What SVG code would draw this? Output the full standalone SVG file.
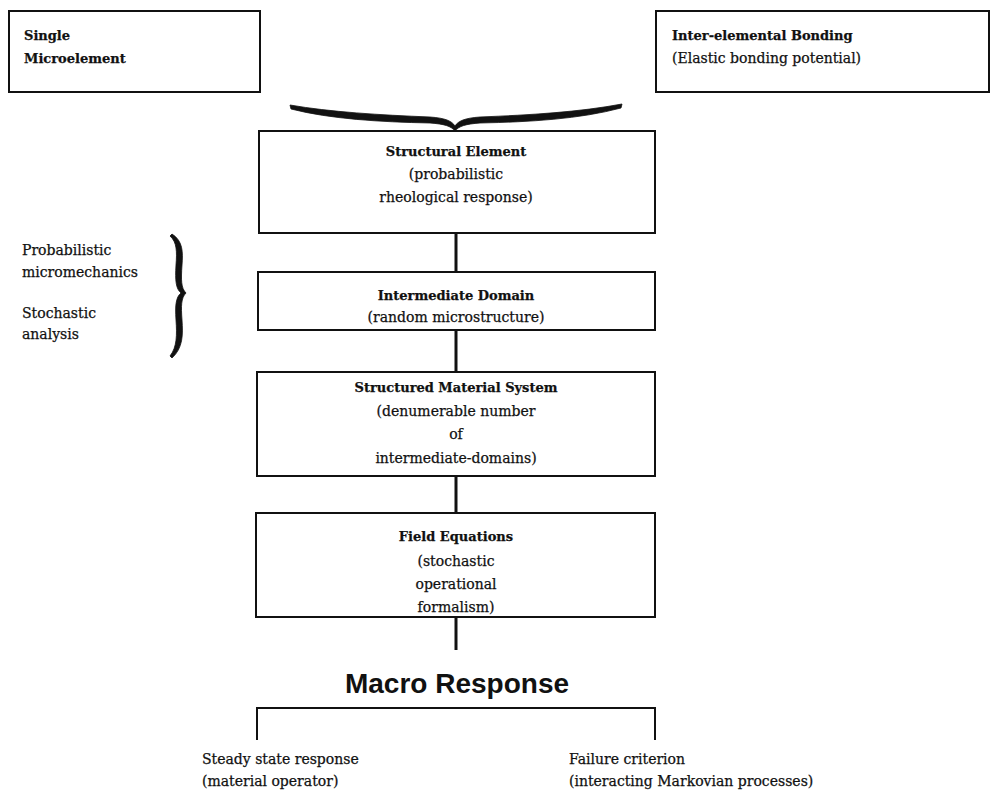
<svg xmlns="http://www.w3.org/2000/svg" width="991" height="795" viewBox="0 0 991 795">
  <style>
    .box { fill: #fff; stroke: #111; stroke-width: 2; }
    .wire { fill: none; stroke: #111; stroke-width: 3; }
    .brk { fill: none; stroke: #111; stroke-width: 2; }
    .brace { fill: #111; stroke: #111; stroke-width: 0.8; stroke-linejoin: round; }
    text { font-family: "DejaVu Serif", "Liberation Serif", serif; font-size: 14px; fill: #111; stroke: #111; stroke-width: 0.25; }
    .b { font-weight: bold; font-size: 13px; }
    .c { text-anchor: middle; }
    .big { font-family: "Liberation Sans", Arial, sans-serif; font-weight: bold; font-size: 28px; stroke-width: 0; }
  </style>

  <rect width="991" height="795" fill="#fff"/>

  <!-- connectors -->
  <g id="connectors">
    <line class="wire" x1="456" y1="233" x2="456" y2="272"/>
    <line class="wire" x1="456" y1="330" x2="456" y2="372"/>
    <line class="wire" x1="456" y1="476" x2="456" y2="513"/>
    <line class="wire" x1="456" y1="617" x2="456" y2="650"/>
    <!-- split under the macro response -->
    <polyline class="brk" points="257,740 257,708 655,708 655,740"/>
    <!-- brace joining the two upper boxes -->
    <path class="brace" d="M290,105 C330,112 380,115 430,117 C445,118 452,121 455,126 C458,121 465,118 480,117 C530,115 580,112 622,104 L621,108 C580,119 530,122 480,123 C466,124 459,126 455,131 C451,126 444,124 430,123 C380,122 330,119 291,109 Z"/>
    <!-- side brace -->
    <path class="brace" d="M172,234 C183,241 183,252 182,265 C181,280 181,288 186,293 C181,298 181,306 182,320 C183,335 183,348 172,358 L170,356 C177,347 177,335 176,320 C175,305 176,297 181,293 C176,289 175,281 176,265 C177,252 177,242 170,236 Z"/>
  </g>

  <g id="single-microelement">
    <rect class="box" x="9" y="11" width="251" height="81"/>
    <text class="b" x="24" y="40">Single</text>
    <text class="b" x="24" y="63">Microelement</text>
  </g>

  <g id="inter-elemental-bonding">
    <rect class="box" x="656" y="11" width="333" height="81"/>
    <text class="b" x="672" y="40">Inter-elemental Bonding</text>
    <text x="672" y="63">(Elastic bonding potential)</text>
  </g>

  <g id="structural-element">
    <rect class="box" x="259" y="131" width="396" height="102"/>
    <text class="b c" x="456" y="156">Structural Element</text>
    <text class="c" x="456" y="179">(probabilistic</text>
    <text class="c" x="456" y="202">rheological response)</text>
  </g>

  <g id="intermediate-domain">
    <rect class="box" x="258" y="272" width="397" height="58"/>
    <text class="b c" x="456" y="300">Intermediate Domain</text>
    <text class="c" x="456" y="322">(random microstructure)</text>
  </g>

  <g id="structured-material-system">
    <rect class="box" x="257" y="372" width="398" height="104"/>
    <text class="b c" x="456" y="392">Structured Material System</text>
    <text class="c" x="456" y="416">(denumerable number</text>
    <text class="c" x="456" y="439">of</text>
    <text class="c" x="456" y="463">intermediate-domains)</text>
  </g>

  <g id="field-equations">
    <rect class="box" x="256" y="513" width="399" height="104"/>
    <text class="b c" x="456" y="541">Field Equations</text>
    <text class="c" x="456" y="566">(stochastic</text>
    <text class="c" x="456" y="589">operational</text>
    <text class="c" x="456" y="612">formalism)</text>
  </g>

  <g id="side-labels">
    <text x="22" y="255">Probabilistic</text>
    <text x="22" y="277">micromechanics</text>
    <text x="22" y="318">Stochastic</text>
    <text x="22" y="339">analysis</text>
  </g>

  <g id="macro-response">
    <text class="big c" x="457" y="693">Macro Response</text>
  </g>

  <g id="steady-state">
    <text x="202" y="764">Steady state response</text>
    <text x="202" y="786">(material operator)</text>
  </g>

  <g id="failure-criterion">
    <text x="569" y="764">Failure criterion</text>
    <text x="569" y="786">(interacting Markovian processes)</text>
  </g>
</svg>
